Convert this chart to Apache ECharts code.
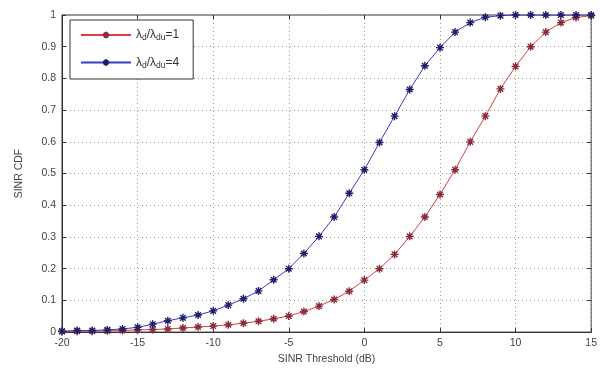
<!DOCTYPE html>
<html>
<head>
<meta charset="utf-8">
<script src="https://cdn.jsdelivr.net/npm/echarts@6/dist/echarts.min.js"></script>
<style>html,body{margin:0;padding:0;background:#fff}#c{width:600px;height:370px}</style>
</head>
<body>
<div id="c"></div>
<script>
const xValues = [-20,-19,-18,-17,-16,-15,-14,-13,-12,-11,-10,-9,-8,-7,-6,-5,-4,-3,-2,-1,0,1,2,3,4,5,6,7,8,9,10,11,12,13,14,15];
const redValues = [0.002,0.003,0.003,0.004,0.005,0.007,0.008,0.010,0.013,0.016,0.019,0.023,0.028,0.034,0.042,0.051,0.065,0.082,0.103,0.129,0.164,0.200,0.245,0.302,0.363,0.434,0.512,0.600,0.681,0.767,0.838,0.900,0.946,0.976,0.992,0.998];
const blueValues = [0.003,0.005,0.005,0.007,0.010,0.015,0.025,0.036,0.045,0.054,0.067,0.085,0.105,0.130,0.165,0.200,0.248,0.302,0.363,0.438,0.512,0.598,0.681,0.765,0.840,0.897,0.946,0.976,0.993,0.998,1,1,1,1,1,1];
const xTicks = [-20,-15,-10,-5,0,5,10,15];
const yTicks = [0,0.1,0.2,0.3,0.4,0.5,0.6,0.7,0.8,0.9,1];
const seriesNames = ['red','blue'];

const star = 'path://M5,0L5,10M0,5L10,5M1.5,1.5L8.5,8.5M1.5,8.5L8.5,1.5';
const chart = echarts.init(document.getElementById('c'));
const lbl = {color:'#444', fontFamily:'Liberation Sans, Arial', fontSize:10.5};
const rich = {
  t:{fontSize:12, color:'#333', fontFamily:'Liberation Sans'},
  s:{fontSize:8.5, color:'#333', fontFamily:'Liberation Sans', verticalAlign:'bottom', padding:[6,0,0,0]}
};
function mk(vals){
  return vals.map((v,i)=>[xValues[i], v]);
}
chart.setOption({
  animation:false,
  grid:{left:62,right:5,top:15,bottom:36,show:true,borderColor:'#333',borderWidth:1},
  legend:{
    orient:'vertical', left:70, top:20,
    backgroundColor:'#fff', borderColor:'#333', borderWidth:1, borderRadius:0,
    padding:[9,14,9,10], itemGap:14, itemWidth:50, itemHeight:8,
    data:['red','blue'],
    formatter: function(n){ return n==='red' ? '{t|λ}{s|d}{t|/λ}{s|du}{t|=1}' : '{t|λ}{s|d}{t|/λ}{s|du}{t|=4}'; },
    textStyle:{rich:rich}
  },
  xAxis:[{
    type:'value', min:-20, max:15, interval:5,
    axisLine:{onZero:false,lineStyle:{color:'#333'}},
    axisTick:{inside:true,length:4,lineStyle:{color:'#333'}},
    axisLabel:Object.assign({margin:6, formatter:v=>xTicks.includes(v)?String(v):''},lbl),
    splitLine:{show:true,lineStyle:{type:[1,3],color:'#999'}},
    name:'SINR Threshold (dB)', nameLocation:'middle', nameGap:21,
    nameTextStyle:{color:'#444', fontFamily:'Liberation Sans', fontSize:10.5}
  },{
    type:'value', position:'top', min:-20, max:15, interval:5,
    axisLine:{show:false,onZero:false}, axisTick:{inside:true,length:4,lineStyle:{color:'#333'}},
    axisLabel:{show:false}, splitLine:{show:false}
  }],
  yAxis:[{
    type:'value', min:0, max:1, interval:0.1,
    axisLine:{show:true,onZero:false,lineStyle:{color:'#333'}},
    axisTick:{show:true,inside:true,length:4,lineStyle:{color:'#333'}},
    axisLabel:Object.assign({margin:6, formatter:v=>{const r=Math.round(v*10)/10; return yTicks.includes(r)?String(r):'';}},lbl),
    splitLine:{show:true,lineStyle:{type:[1,3],color:'#999'}},
    name:'SINR CDF', nameLocation:'middle', nameGap:37,
    nameTextStyle:{color:'#444', fontFamily:'Liberation Sans', fontSize:10.5}
  },{
    type:'value', position:'right', min:0, max:1, interval:0.1,
    axisLine:{show:false,onZero:false}, axisTick:{show:true,inside:true,length:4,lineStyle:{color:'#333'}},
    axisLabel:{show:false}, splitLine:{show:false}
  }],
  series:[{
    name:seriesNames[0], type:'line', data:mk(redValues), symbol:star, symbolSize:8,
    lineStyle:{color:'#d84040',width:1}, itemStyle:{color:'transparent',borderColor:'#8a2a3a',borderWidth:1.4}
  },{
    name:seriesNames[1], type:'line', data:mk(blueValues), symbol:star, symbolSize:8,
    lineStyle:{color:'#3a3ac8',width:1}, itemStyle:{color:'transparent',borderColor:'#20206a',borderWidth:1.4}
  }]
});
</script>
</body>
</html>
